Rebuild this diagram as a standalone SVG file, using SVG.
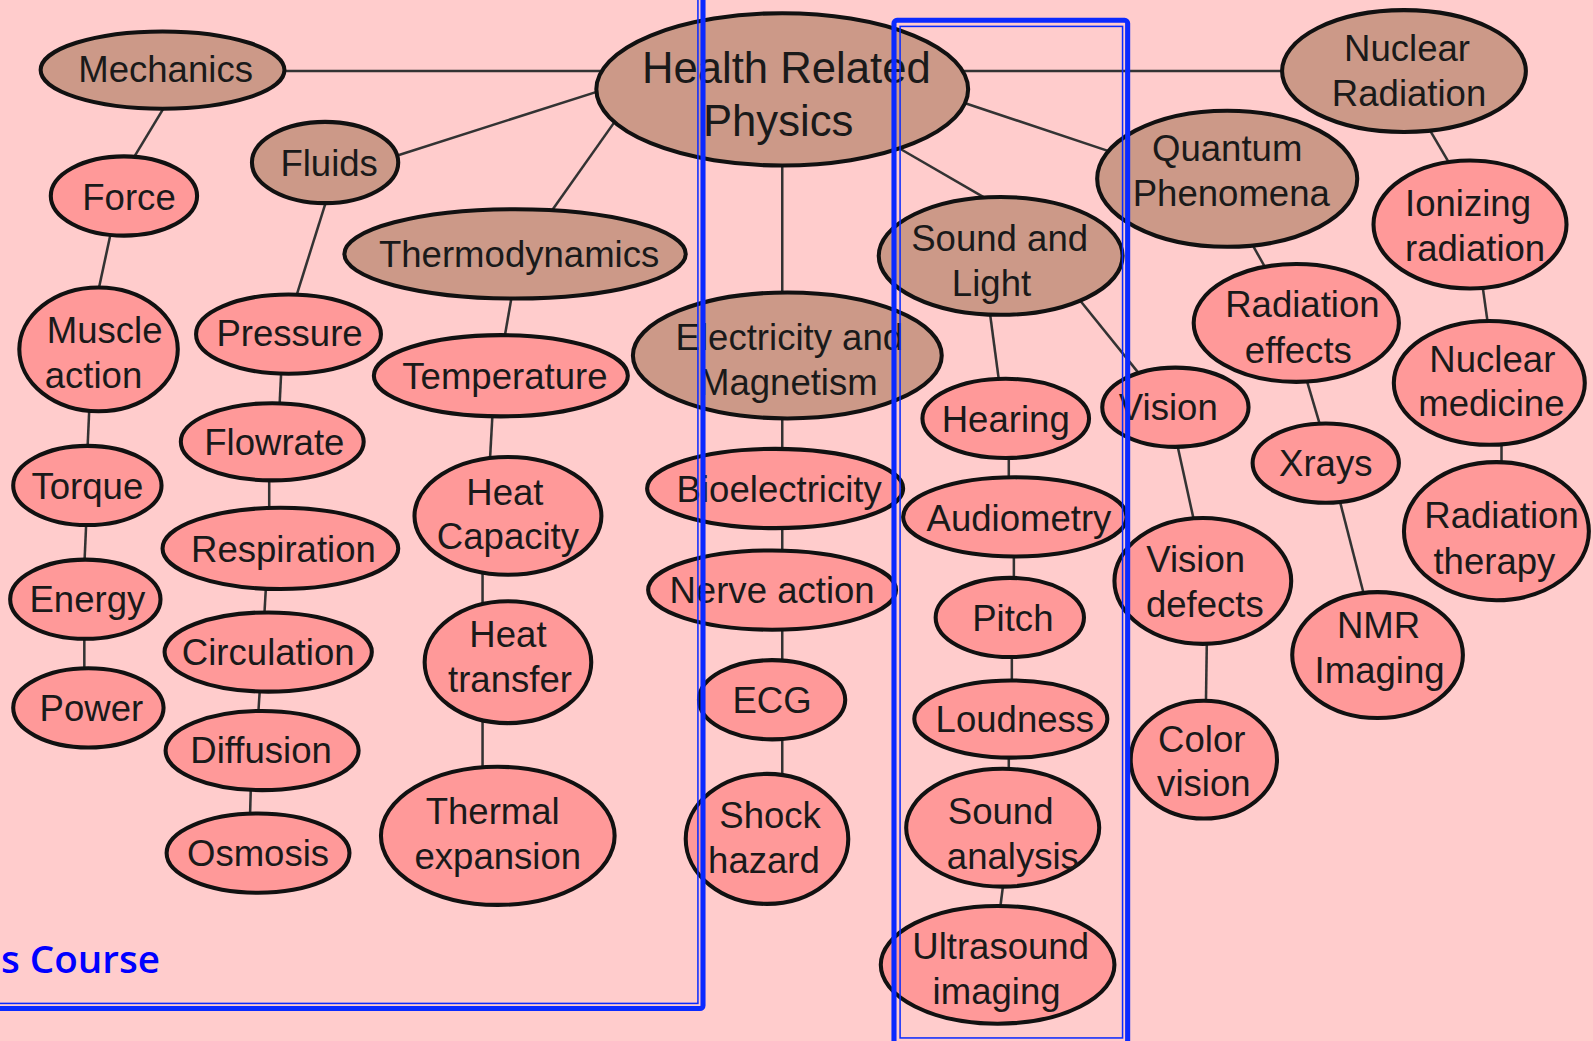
<svg xmlns="http://www.w3.org/2000/svg" width="1593" height="1041" viewBox="0 0 1593 1041">
<style>
.b{fill:#CC9988;stroke:#111;stroke-width:4}
.p{fill:#FF9999;stroke:#111;stroke-width:4}
.t{font-family:"Liberation Sans",Arial,sans-serif;font-size:36px;fill:#1a1a1a;text-anchor:middle}
.h{font-size:43px}
.c line{stroke:#333;stroke-width:2.5}
.fr{fill:none;stroke:#0a2aff}
</style>
<rect width="1593" height="1041" fill="#FFCCCC"/>
<g transform="scale(1.0159,1.0156)">
<g id="connectors" class="c">
<line x1="270" y1="70" x2="600" y2="70"/>
<line x1="945" y1="70" x2="1272" y2="70"/>
<line x1="385" y1="155" x2="595" y2="88"/>
<line x1="540" y1="212" x2="605" y2="120"/>
<line x1="770" y1="150" x2="770" y2="295"/>
<line x1="880" y1="143" x2="975" y2="198"/>
<line x1="945" y1="100" x2="1095" y2="150"/>
<line x1="162" y1="105" x2="130" y2="158"/>
<line x1="110" y1="225" x2="96" y2="290"/>
<line x1="88" y1="400" x2="86" y2="445"/>
<line x1="85" y1="512" x2="83" y2="557"/>
<line x1="83" y1="622" x2="83" y2="664"/>
<line x1="322" y1="195" x2="290" y2="297"/>
<line x1="277" y1="362" x2="275" y2="403"/>
<line x1="265" y1="467" x2="265" y2="506"/>
<line x1="262" y1="574" x2="260" y2="609"/>
<line x1="256" y1="675" x2="254" y2="706"/>
<line x1="247" y1="772" x2="246" y2="807"/>
<line x1="504" y1="290" x2="496" y2="336"/>
<line x1="485" y1="404" x2="482" y2="458"/>
<line x1="475" y1="560" x2="475" y2="600"/>
<line x1="475" y1="705" x2="475" y2="762"/>
<line x1="770" y1="405" x2="770" y2="447"/>
<line x1="770" y1="514" x2="770" y2="547"/>
<line x1="770" y1="614" x2="770" y2="656"/>
<line x1="770" y1="722" x2="770" y2="770"/>
<line x1="974" y1="305" x2="984" y2="380"/>
<line x1="1060" y1="292" x2="1127" y2="375"/>
<line x1="993" y1="446" x2="993" y2="476"/>
<line x1="998" y1="542" x2="998" y2="576"/>
<line x1="996" y1="641" x2="996" y2="676"/>
<line x1="993" y1="740" x2="993" y2="766"/>
<line x1="988" y1="867" x2="984" y2="898"/>
<line x1="1158" y1="434" x2="1176" y2="516"/>
<line x1="1188" y1="628" x2="1187" y2="696"/>
<line x1="1230" y1="236" x2="1248" y2="268"/>
<line x1="1285" y1="370" x2="1301" y2="424"/>
<line x1="1318" y1="490" x2="1344" y2="591"/>
<line x1="1405" y1="124" x2="1428" y2="163"/>
<line x1="1459" y1="279" x2="1465" y2="322"/>
<line x1="1478" y1="432" x2="1478" y2="461"/>
</g>

<g id="n-hrp"><ellipse class="b" cx="770" cy="88" rx="183" ry="75"/><text class="t h" x="774" y="82">Health Related</text><text class="t h" x="766" y="134">Physics</text></g>
<g id="n-mechanics"><ellipse class="b" cx="160" cy="69" rx="120" ry="38"/><text class="t" x="163" y="81">Mechanics</text></g>
<g id="n-fluids"><ellipse class="b" cx="320" cy="160" rx="72" ry="40"/><text class="t" x="324" y="173">Fluids</text></g>
<g id="n-thermo"><ellipse class="b" cx="507" cy="250" rx="168" ry="44"/><text class="t" x="511" y="263">Thermodynamics</text></g>
<g id="n-em"><ellipse class="b" cx="775" cy="350" rx="152" ry="62"/><text class="t" x="777" y="345">Electricity and</text><text class="t" x="776" y="389">Magnetism</text></g>
<g id="n-sl"><ellipse class="b" cx="985" cy="252" rx="120" ry="58"/><text class="t" x="984" y="247">Sound and</text><text class="t" x="976" y="291">Light</text></g>
<g id="n-qp"><ellipse class="b" cx="1208" cy="176" rx="128" ry="67"/><text class="t" x="1208" y="159">Quantum</text><text class="t" x="1212" y="203">Phenomena</text></g>
<g id="n-nr"><ellipse class="b" cx="1382" cy="70" rx="120" ry="60"/><text class="t" x="1385" y="60">Nuclear</text><text class="t" x="1387" y="104">Radiation</text></g>

<g id="n-force"><ellipse class="p" cx="122" cy="193" rx="72" ry="39"/><text class="t" x="127" y="207">Force</text></g>
<g id="n-muscle"><ellipse class="p" cx="97" cy="344" rx="78" ry="61"/><text class="t" x="103" y="338">Muscle</text><text class="t" x="92" y="382">action</text></g>
<g id="n-torque"><ellipse class="p" cx="86" cy="478" rx="73" ry="39"/><text class="t" x="86" y="491">Torque</text></g>
<g id="n-energy"><ellipse class="p" cx="84" cy="590" rx="74" ry="39"/><text class="t" x="86" y="603">Energy</text></g>
<g id="n-power"><ellipse class="p" cx="87" cy="697" rx="74" ry="39"/><text class="t" x="90" y="710">Power</text></g>

<g id="n-pressure"><ellipse class="p" cx="284" cy="329" rx="91" ry="39"/><text class="t" x="285" y="341">Pressure</text></g>
<g id="n-flowrate"><ellipse class="p" cx="268" cy="435" rx="90" ry="38"/><text class="t" x="270" y="448">Flowrate</text></g>
<g id="n-respiration"><ellipse class="p" cx="276" cy="540" rx="116" ry="40"/><text class="t" x="279" y="553">Respiration</text></g>
<g id="n-circulation"><ellipse class="p" cx="264" cy="642" rx="102" ry="39"/><text class="t" x="264" y="655">Circulation</text></g>
<g id="n-diffusion"><ellipse class="p" cx="258" cy="739" rx="95" ry="39"/><text class="t" x="257" y="751">Diffusion</text></g>
<g id="n-osmosis"><ellipse class="p" cx="254" cy="840" rx="90" ry="39"/><text class="t" x="254" y="853">Osmosis</text></g>

<g id="n-temperature"><ellipse class="p" cx="493" cy="370" rx="125" ry="40"/><text class="t" x="497" y="383">Temperature</text></g>
<g id="n-heatcap"><ellipse class="p" cx="500" cy="508" rx="92" ry="58"/><text class="t" x="497" y="497">Heat</text><text class="t" x="500" y="541">Capacity</text></g>
<g id="n-heattransfer"><ellipse class="p" cx="500" cy="652" rx="82" ry="60"/><text class="t" x="500" y="637">Heat</text><text class="t" x="502" y="681">transfer</text></g>
<g id="n-thermal"><ellipse class="p" cx="490" cy="823" rx="115" ry="68"/><text class="t" x="485" y="811">Thermal</text><text class="t" x="490" y="856">expansion</text></g>

<g id="n-bioelec"><ellipse class="p" cx="763" cy="481" rx="126" ry="39"/><text class="t" x="767" y="494">Bioelectricity</text></g>
<g id="n-nerve"><ellipse class="p" cx="760" cy="581" rx="122" ry="39"/><text class="t" x="760" y="594">Nerve action</text></g>
<g id="n-ecg"><ellipse class="p" cx="760" cy="689" rx="72" ry="39"/><text class="t" x="760" y="702">ECG</text></g>
<g id="n-shock"><ellipse class="p" cx="755" cy="826" rx="80" ry="64"/><text class="t" x="758" y="815">Shock</text><text class="t" x="752" y="860">hazard</text></g>

<g id="n-hearing"><ellipse class="p" cx="990" cy="412" rx="82" ry="39"/><text class="t" x="990" y="425">Hearing</text></g>
<g id="n-audiometry"><ellipse class="p" cx="999" cy="509" rx="110" ry="39"/><text class="t" x="1003" y="523">Audiometry</text></g>
<g id="n-pitch"><ellipse class="p" cx="994" cy="608" rx="73" ry="39"/><text class="t" x="997" y="621">Pitch</text></g>
<g id="n-loudness"><ellipse class="p" cx="995" cy="708" rx="95" ry="38"/><text class="t" x="999" y="721">Loudness</text></g>
<g id="n-soundanalysis"><ellipse class="p" cx="987" cy="815" rx="95" ry="58"/><text class="t" x="985" y="811">Sound</text><text class="t" x="997" y="856">analysis</text></g>
<g id="n-ultrasound"><ellipse class="p" cx="982" cy="950" rx="115" ry="58"/><text class="t" x="985" y="944">Ultrasound</text><text class="t" x="981" y="989">imaging</text></g>

<g id="n-vision"><ellipse class="p" cx="1157" cy="401" rx="72" ry="39"/><text class="t" x="1150" y="414">Vision</text></g>
<g id="n-visiondefects"><ellipse class="p" cx="1184" cy="572" rx="87" ry="62"/><text class="t" x="1177" y="563">Vision</text><text class="t" x="1186" y="608">defects</text></g>
<g id="n-color"><ellipse class="p" cx="1185" cy="748" rx="72" ry="58"/><text class="t" x="1183" y="740">Color</text><text class="t" x="1185" y="784">vision</text></g>

<g id="n-radeffects"><ellipse class="p" cx="1276" cy="318" rx="101" ry="58"/><text class="t" x="1282" y="312">Radiation</text><text class="t" x="1278" y="357">effects</text></g>
<g id="n-xrays"><ellipse class="p" cx="1305" cy="456" rx="72" ry="39"/><text class="t" x="1305" y="469">Xrays</text></g>
<g id="n-nmr"><ellipse class="p" cx="1356" cy="645" rx="84" ry="62"/><text class="t" x="1357" y="628">NMR</text><text class="t" x="1358" y="673">Imaging</text></g>

<g id="n-ionizing"><ellipse class="p" cx="1447" cy="221" rx="95" ry="63"/><text class="t" x="1445" y="213">Ionizing</text><text class="t" x="1452" y="257">radiation</text></g>
<g id="n-nucmed"><ellipse class="p" cx="1466" cy="377" rx="94" ry="61"/><text class="t" x="1469" y="366">Nuclear</text><text class="t" x="1468" y="410">medicine</text></g>
<g id="n-radtherapy"><ellipse class="p" cx="1473" cy="523" rx="91" ry="68"/><text class="t" x="1478" y="520">Radiation</text><text class="t" x="1471" y="565">therapy</text></g>

<g id="frames">
<rect class="fr" x="-30" y="-30" width="722" height="1023" rx="3" stroke-width="5"/>
<rect class="fr" x="-30" y="-30" width="717" height="1018" stroke-width="1.5"/>
<rect class="fr" x="880" y="20" width="230" height="1020" rx="3" stroke-width="5"/>
<rect class="fr" x="886" y="26" width="219" height="996" stroke-width="1.5"/>
</g>
<text x="1" y="958" font-family="'Open Sans','Noto Sans',sans-serif" font-weight="600" font-size="38" fill="#0000ff">s Course</text>
</g>
</svg>
